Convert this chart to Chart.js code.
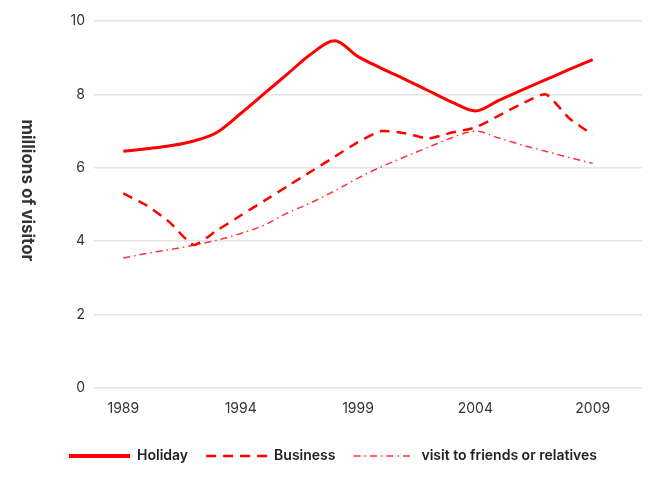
<!DOCTYPE html>
<html>
<head>
<meta charset="utf-8">
<script src="https://cdn.jsdelivr.net/npm/chart.js@4.4.1/dist/chart.umd.min.js"></script>
<style>
  html, body { margin: 0; padding: 0; background: #fff; }
  #wrap { width: 665px; height: 480px; }
</style>
</head>
<body>
<div id="wrap"><canvas id="line-chart"></canvas></div>
<script>
// values, one per year
var years = [1989, 1990, 1991, 1992, 1993, 1994, 1995, 1996, 1997, 1998, 1999,
             2000, 2001, 2002, 2003, 2004, 2005, 2006, 2007, 2008, 2009];
var holiday = [6.45, 6.52, 6.6, 6.73, 6.97, 7.48, 8.02, 8.56, 9.1, 9.46, 9.03,
               8.71, 8.41, 8.1, 7.79, 7.55, 7.84, 8.12, 8.4, 8.68, 8.95];
var business = [5.3, 4.97, 4.5, 3.9, 4.3, 4.7, 5.1, 5.5, 5.9, 6.3, 6.7,
                7.0, 6.94, 6.8, 6.96, 7.1, 7.42, 7.75, 8.0, 7.35, 6.9];
var visitFriends = [3.54, 3.67, 3.77, 3.89, 4.03, 4.21, 4.44, 4.77, 5.05, 5.37, 5.72,
                    6.03, 6.3, 6.56, 6.82, 7.0, 6.81, 6.62, 6.45, 6.28, 6.12];
var tickYears = [1989, 1994, 1999, 2004, 2009];
var seriesNames = ["Holiday", "Business", "visit to friends or relatives"];
var yTitle = "millions of visitor";

function toPoints(vals) {
  return years.map(function (y, i) { return { x: y, y: vals[i] }; });
}

// the axis title reads top to bottom, so it is drawn by hand
var sideTitle = {
  id: "sideTitle",
  afterDraw: function (chart) {
    var ctx = chart.ctx;
    var area = chart.chartArea;
    ctx.save();
    ctx.translate(27, (area.top + area.bottom) / 2 - 14);
    ctx.rotate(Math.PI / 2);
    ctx.font = "bold 17px Inter";
    ctx.fillStyle = "#333";
    ctx.textAlign = "center";
    ctx.textBaseline = "middle";
    ctx.fillText(yTitle, 0, 0);
    ctx.restore();
  }
};

var config = {
  type: "line",
  data: {
    datasets: [
      {
        label: seriesNames[0],
        data: toPoints(holiday),
        borderColor: "#ff0000",
        backgroundColor: "#ff0000",
        borderWidth: 3,
        pointRadius: 0,
        pointStyle: "line",
        cubicInterpolationMode: "monotone"
      },
      {
        label: seriesNames[1],
        data: toPoints(business),
        borderColor: "#ff0000",
        backgroundColor: "#ff0000",
        borderWidth: 2.5,
        borderDash: [10, 7],
        pointRadius: 0,
        pointStyle: "line",
        tension: 0.2
      },
      {
        label: seriesNames[2],
        data: toPoints(visitFriends),
        borderColor: "#ff3333",
        backgroundColor: "#ff3333",
        borderWidth: 1.5,
        borderDash: [7, 4, 1.5, 4],
        pointRadius: 0,
        pointStyle: "line",
        cubicInterpolationMode: "monotone"
      }
    ]
  },
  options: {
    responsive: true,
    maintainAspectRatio: false,
    animation: false,
    layout: { padding: { top: 21, right: 23, bottom: 7, left: 24 } },
    plugins: {
      legend: {
        position: "bottom",
        labels: {
          usePointStyle: true,
          pointStyleWidth: 61,
          padding: 18,
          color: "#222",
          font: { family: "Inter", size: 14, weight: "600" },
          generateLabels: function (chart) {
            var items = Chart.defaults.plugins.legend.labels.generateLabels(chart);
            items.forEach(function (it) {
              var ds = chart.data.datasets[it.datasetIndex];
              it.lineDash = ds.borderDash || [];
              it.lineWidth = ds.borderWidth === 3 ? 4 : ds.borderWidth;
              it.strokeStyle = ds.borderColor;
            });
            return items;
          }
        }
      },
      tooltip: { enabled: false }
    },
    scales: {
      x: {
        type: "linear",
        min: 1987.75,
        max: 2011.1,
        afterBuildTicks: function (scale) {
          scale.ticks = tickYears.map(function (v) { return { value: v }; });
        },
        afterFit: function (scale) { scale.height = 43; },
        grid: { display: false, drawTicks: false },
        border: { display: false },
        ticks: {
          padding: 12,
          color: "#333",
          font: { family: "Inter", size: 14 },
          callback: function (v) { return String(v); }
        }
      },
      y: {
        min: 0,
        max: 10,
        afterFit: function (scale) { scale.width = 70; },
        grid: { color: "#e4e4e4", lineWidth: 1.5, drawTicks: false },
        border: { display: false },
        ticks: {
          stepSize: 2,
          padding: 9,
          color: "#333",
          font: { family: "Inter", size: 14 }
        }
      }
    }
  },
  plugins: [sideTitle]
};

var ctx = document.getElementById("line-chart").getContext("2d");
window.myLine = new Chart(ctx, config);
</script>
</body>
</html>
